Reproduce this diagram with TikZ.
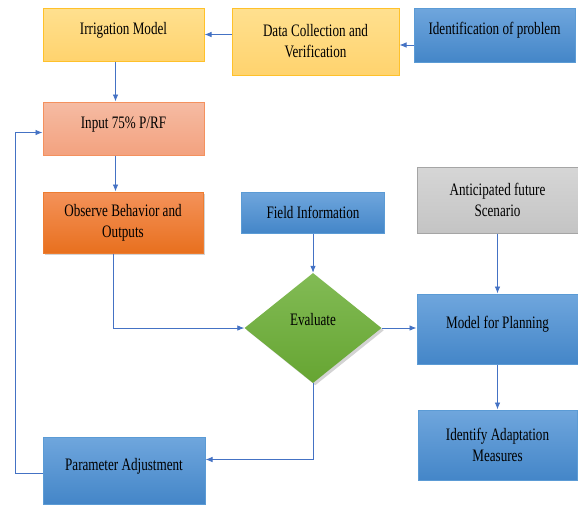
\documentclass[tikz,border=0pt]{standalone}
\usepackage{fontspec}
\setmainfont[FakeStretch=0.75]{Liberation Serif}
\usetikzlibrary{arrows.meta,shapes.geometric,shadows}
\definecolor{ylwtop}{HTML}{FFE08F}
\definecolor{ylwbot}{HTML}{FFD36E}
\definecolor{ylwline}{HTML}{FFC12A}
\definecolor{saltop}{HTML}{F5BBA3}
\definecolor{salbot}{HTML}{F3A27F}
\definecolor{salline}{HTML}{F4915E}
\definecolor{orgtop}{HTML}{F4925A}
\definecolor{orgbot}{HTML}{E8701E}
\definecolor{orgline}{HTML}{ED7D31}
\definecolor{blutop}{HTML}{6FA6DD}
\definecolor{blubot}{HTML}{4486C8}
\definecolor{bluline}{HTML}{5B9BD5}
\definecolor{grytop}{HTML}{D6D6D6}
\definecolor{grybot}{HTML}{C4C4C4}
\definecolor{gryline}{HTML}{A5A5A5}
\definecolor{grntop}{HTML}{82BB55}
\definecolor{grnbot}{HTML}{66A532}
\definecolor{arrblue}{HTML}{4472C4}
\begin{document}
\begin{tikzpicture}[x=1pt, y=-1pt,
    box/.style={line width=1pt, minimum width=161pt, align=center, inner sep=2pt,
                font=\fontsize{17.5}{21}\selectfont, text=black},
    oneline/.style={text height=12pt, text depth=13pt},
    ylw/.style={box, draw=ylwline, top color=ylwtop, bottom color=ylwbot},
    sal/.style={box, draw=salline, top color=saltop, bottom color=salbot},
    org/.style={box, draw=orgline, top color=orgtop, bottom color=orgbot,
                drop shadow={opacity=0.35}},
    blu/.style={box, draw=bluline, top color=blutop, bottom color=blubot},
    gry/.style={box, draw=gryline, top color=grytop, bottom color=grybot},
    dia/.style={diamond, minimum width=137pt, minimum height=110pt, inner sep=2pt,
                top color=grntop, bottom color=grnbot, text height=12pt, text depth=18pt,
                font=\fontsize{17.5}{21}\selectfont, text=black,
                drop shadow={opacity=0.35}},
    arr/.style={draw=arrblue, line width=0.8pt, -{Latex[length=7pt,width=5.5pt]}}]
      \useasboundingbox (0,0) rectangle (578,504);
      % top row
      \node[ylw, oneline, minimum height=53pt] (irr) at (123.5,34.5) {Irrigation Model};
      \node[ylw, minimum width=167pt, minimum height=67pt] (dcv) at (315.5,41.5) {Data Collection and\\Verification};
      \node[blu, oneline, minimum height=54pt] (prob) at (494.5,35) {Identification of problem};
      % left column
      \node[sal, oneline, minimum height=53pt] (inp) at (123.5,128.5) {Input 75\% P/RF};
      \node[org, minimum width=160pt, minimum height=61pt] (obs) at (123,222.5) {Observe Behavior and\\Outputs};
      \node[blu, oneline, minimum width=162pt, minimum height=67pt] (param) at (124,470.5) {Parameter Adjustment};
      % middle and right
      \node[blu, minimum width=143pt, minimum height=41pt] (fld) at (313,212.5) {Field Information};
      \node[dia] (eva) at (313,328) {Evaluate};
      \node[gry, minimum height=66pt] (ant) at (497.5,200) {Anticipated future\\Scenario};
      \node[blu, oneline, minimum height=70pt] (plan) at (497.5,329) {Model for Planning};
      \node[blu, minimum width=159pt, minimum height=70pt] (adapt) at (497.5,445) {Identify Adaptation\\Measures};
      \coordinate (fb) at (15,473);
      % connectors
      \draw[arr] ([yshift=-10pt]prob.west) -- ([yshift=-10pt]prob.west -| dcv.east);
      \draw[arr] (dcv.west |- irr.east) -- (irr.east);
      \draw[arr] ([xshift=-8pt]irr.south) -- ([xshift=-8pt]inp.north);
      \draw[arr] ([xshift=-8pt]inp.south) -- ([xshift=-8pt]inp.south |- obs.north);
      \draw[arr] ([xshift=-10pt]obs.south) |- (eva.west);
      \draw[arr] (fld.south) -- (eva.north);
      \draw[arr] (eva.east) -- (eva.east -| plan.west);
      \draw[arr] (ant.south) -- (plan.north);
      \draw[arr] (plan.south) -- (adapt.north);
      \draw[arr] (eva.south) |- ([yshift=11pt]param.east);
      \draw[arr] ([yshift=-3pt]param.west) -- ([yshift=-3pt]param.west -| fb) |- ([yshift=-4pt]inp.west);
\end{tikzpicture}
\end{document}
